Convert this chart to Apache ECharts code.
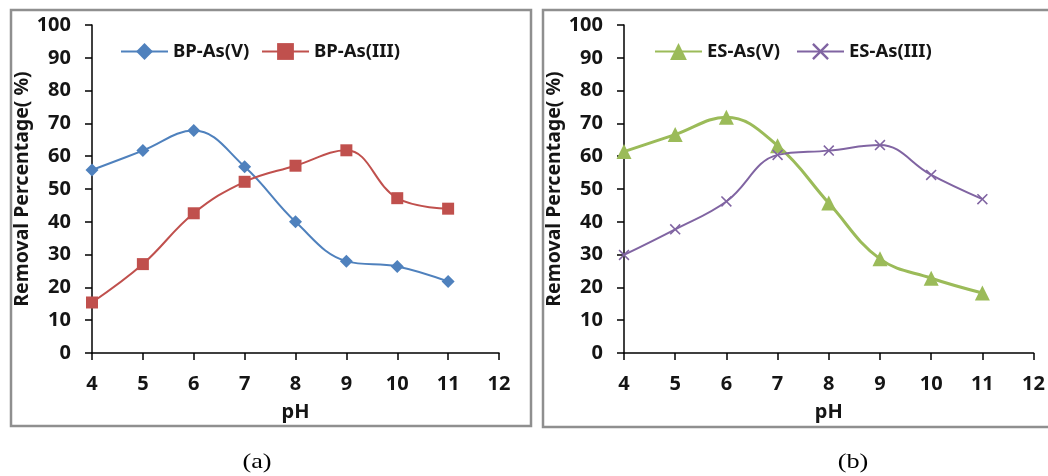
<!DOCTYPE html>
<html>
<head>
<meta charset="utf-8">
<style>
  html, body { margin: 0; padding: 0; background: #ffffff; }
  #chart { width: 1048px; height: 476px; }
</style>
<script src="https://cdn.jsdelivr.net/npm/echarts@6/dist/echarts.min.js"></script>
</head>
<body>
<div id="chart"></div>
<script>
// pH values shared by both panels
const phValues = [4, 5, 6, 7, 8, 9, 10, 11];

// Panel (a): BP adsorbent
const bpAsV   = [55.8, 61.7, 67.8, 56.8, 40.0, 28.0, 26.4, 21.8];
const bpAsIII = [15.4, 27.1, 42.6, 52.2, 57.1, 61.8, 47.2, 44.0];

// Panel (b): ES adsorbent
const esAsV   = [61.4, 66.6, 71.9, 63.2, 45.7, 28.7, 22.8, 18.3];
const esAsIII = [29.9, 37.7, 46.2, 60.4, 61.7, 63.4, 54.3, 46.9];

const seriesNames = ['BP-As(V)', 'BP-As(III)', 'ES-As(V)', 'ES-As(III)'];
const panelCaptions = ['(a)', '(b)'];
const xAxisTitle = 'pH';
const yAxisTitle = 'Removal Percentage( %)';

const FONT = 'Noto Sans';
const TEXT = '#151515';
const crossPath = 'path://M0,1 L1,0 L5,4 L9,0 L10,1 L6,5 L10,9 L9,10 L5,6 L1,10 L0,9 L4,5 Z';

function pairs(ys) { return phValues.map((x, i) => [x, ys[i]]); }

function makeX(gridIndex) {
  return {
    gridIndex, type: 'value', min: 4, max: 12, interval: 1,
    name: xAxisTitle, nameLocation: 'middle', nameGap: 49,
    nameTextStyle: { fontFamily: FONT, fontWeight: 'bold', fontSize: 20, color: TEXT },
    axisLine: { lineStyle: { color: '#000', width: 1.5 } },
    axisTick: { show: true, inside: false, length: 7, lineStyle: { color: '#000', width: 1.5 } },
    axisLabel: { margin: 21, fontFamily: FONT, fontWeight: 'bold', fontSize: 20, color: TEXT },
    splitLine: { show: false }
  };
}
function makeY(gridIndex) {
  return {
    gridIndex, type: 'value', min: 0, max: 100, interval: 10,
    name: yAxisTitle, nameLocation: 'middle', nameGap: 52, nameRotate: 90,
    nameTextStyle: { fontFamily: FONT, fontWeight: 'bold', fontSize: 19.5, color: TEXT },
    axisLine: { show: true, lineStyle: { color: '#000', width: 1.5 } },
    axisTick: { show: true, inside: false, length: 7, lineStyle: { color: '#000', width: 1.5 } },
    axisLabel: { margin: 21, fontFamily: FONT, fontWeight: 'bold', fontSize: 20, color: TEXT },
    splitLine: { show: false }
  };
}
function makeLine(name, ys, idx, color, symbol, size, width) {
  return {
    name, type: 'line', xAxisIndex: idx, yAxisIndex: idx,
    data: pairs(ys), smooth: 0.4,
    symbol, symbolSize: size,
    lineStyle: { color, width },
    itemStyle: { color, borderColor: color, borderWidth: 0 },
    emphasis: { disabled: true }
  };
}
function makeLegend(name, left) {
  return {
    data: [name], left, top: 42, padding: 0, itemWidth: 47, itemHeight: 21, itemGap: 0,
    textStyle: { fontFamily: FONT, fontWeight: 'bold', fontSize: 18.5, color: TEXT }
  };
}

const chart = echarts.init(document.getElementById('chart'), null, { renderer: 'canvas' });
chart.setOption({
  animation: false,
  backgroundColor: '#ffffff',
  grid: [
    { left: 92, right: 549, top: 25, bottom: 123 },
    { left: 624, right: 14, top: 25, bottom: 123 }
  ],
  xAxis: [makeX(0), makeX(1)],
  yAxis: [makeY(0), makeY(1)],
  legend: [
    makeLegend(seriesNames[0], 120),
    makeLegend(seriesNames[1], 261),
    makeLegend(seriesNames[2], 654),
    makeLegend(seriesNames[3], 796)
  ],
  series: [
    makeLine(seriesNames[0], bpAsV, 0, '#4f81bd', 'diamond', 13, 2),
    makeLine(seriesNames[1], bpAsIII, 0, '#c0504d', 'rect', 12, 2),
    makeLine(seriesNames[2], esAsV, 1, '#9bbb59', 'triangle', 15, 3),
    makeLine(seriesNames[3], esAsIII, 1, '#8064a2', crossPath, 11, 2)
  ],
  graphic: [
    { type: 'rect', shape: { x: 11, y: 10, width: 520, height: 416 }, z: -10,
      style: { fill: 'none', stroke: '#8f8f8f', lineWidth: 2.5 } },
    { type: 'rect', shape: { x: 543, y: 10, width: 520, height: 417 }, z: -10,
      style: { fill: 'none', stroke: '#8f8f8f', lineWidth: 2.5 } },
    { type: 'text', x: 257, y: 462, scaleX: 1.25,
      style: { text: panelCaptions[0], fontFamily: 'Liberation Serif', fontSize: 21, fill: '#000',
               textAlign: 'center', textVerticalAlign: 'middle' } },
    { type: 'text', x: 853, y: 462, scaleX: 1.25,
      style: { text: panelCaptions[1], fontFamily: 'Liberation Serif', fontSize: 21, fill: '#000',
               textAlign: 'center', textVerticalAlign: 'middle' } }
  ]
});
</script>
</body>
</html>
